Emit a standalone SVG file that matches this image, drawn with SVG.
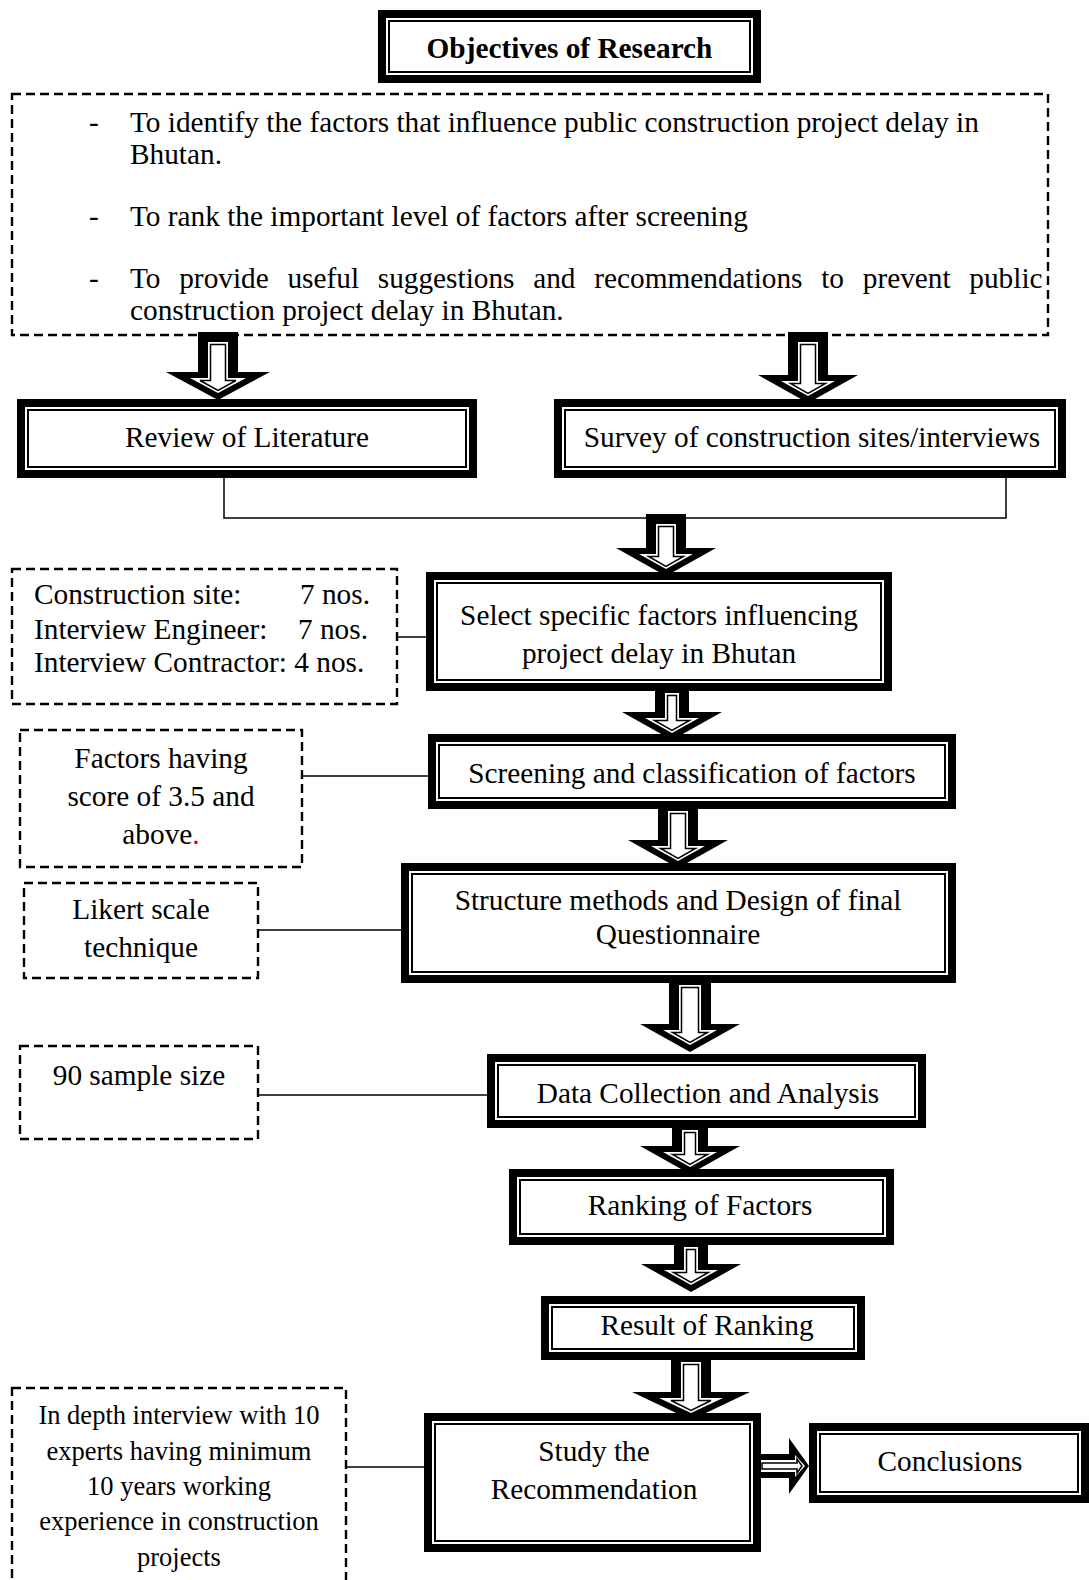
<svg xmlns="http://www.w3.org/2000/svg" width="1089" height="1580" viewBox="0 0 1089 1580">
<style>
text{font-family:"Liberation Serif","Times New Roman",serif;font-size:29.3px;fill:#000}
.b{font-weight:bold}
.m{text-anchor:middle}
.sm{font-size:26.5px}
.o{fill:#000}
.w{fill:#fff}
.t{fill:#fff;stroke:#000;stroke-width:2}
.d{fill:#fff;stroke:#000;stroke-width:2.4;stroke-dasharray:9 5}
.ln{fill:none;stroke:#000;stroke-width:1.5}
.at{fill:#fff;stroke:#000;stroke-width:1.5}
</style>
<rect width="1089" height="1580" fill="#fff"/>

<g id="nodes">
<g id="objectives-title">
<rect class="o" x="378" y="10" width="383" height="73"/><rect class="w" x="386" y="18" width="367" height="57"/><rect class="t" x="389" y="21" width="361" height="51"/>
<text class="m b" x="569.5" y="58">Objectives of Research</text>
</g>
<g id="objectives-list">
<rect class="d" x="12" y="94" width="1036" height="241"/>
<text x="89" y="132">-</text><text x="130" y="132">To identify the factors that influence public construction project delay in</text>
<text x="130" y="164">Bhutan.</text>
<text x="89" y="226">-</text><text x="130" y="226">To rank the important level of factors after screening</text>
<text x="89" y="288">-</text><text x="130" y="288" word-spacing="11.4">To provide useful suggestions and recommendations to prevent public</text>
<text x="130" y="320">construction project delay in Bhutan.</text>
</g>
<g id="review">
<rect class="o" x="17" y="399" width="460" height="79"/><rect class="w" x="25" y="407" width="444" height="63"/><rect class="t" x="28" y="410" width="438" height="57"/>
<text class="m" x="247" y="447">Review of Literature</text>
</g>
<g id="survey">
<rect class="o" x="554" y="399" width="512" height="79"/><rect class="w" x="562" y="407" width="496" height="63"/><rect class="t" x="565" y="410" width="490" height="57"/>
<text class="m" x="812" y="447">Survey of construction sites/interviews</text>
</g>
<g id="select">
<rect class="o" x="426" y="572" width="466" height="119"/><rect class="w" x="434" y="580" width="450" height="103"/><rect class="t" x="437" y="583" width="444" height="97"/>
<text class="m" x="659" y="625">Select specific factors influencing</text>
<text class="m" x="659" y="663">project delay in Bhutan</text>
</g>
<g id="note-sites">
<rect class="d" x="12" y="569" width="385" height="135"/>
<text x="34" y="604">Construction site:</text><text x="300" y="604">7 nos.</text>
<text x="34" y="639">Interview Engineer:</text><text x="298" y="639">7 nos.</text>
<text x="34" y="672">Interview Contractor: 4 nos.</text>
</g>
<g id="screening">
<rect class="o" x="428" y="734" width="528" height="75"/><rect class="w" x="436" y="742" width="512" height="59"/><rect class="t" x="439" y="745" width="506" height="53"/>
<text class="m" x="692" y="783">Screening and classification of factors</text>
</g>
<g id="note-score">
<rect class="d" x="20" y="730" width="282" height="137"/>
<text class="m" x="161" y="768">Factors having</text>
<text class="m" x="161" y="806">score of 3.5 and</text>
<text class="m" x="161" y="844">above<tspan fill="#e00000">.</tspan></text>
</g>
<g id="structure">
<rect class="o" x="401" y="863" width="555" height="120"/><rect class="w" x="409" y="871" width="539" height="104"/><rect class="t" x="412" y="874" width="533" height="98"/>
<text class="m" x="678" y="910">Structure methods and Design of final</text>
<text class="m" x="678" y="944">Questionnaire</text>
</g>
<g id="note-likert">
<rect class="d" x="24" y="883" width="234" height="95"/>
<text class="m" x="141" y="919">Likert scale</text>
<text class="m" x="141" y="957">technique</text>
</g>
<g id="data">
<rect class="o" x="487" y="1054" width="439" height="74"/><rect class="w" x="495" y="1062" width="423" height="58"/><rect class="t" x="498" y="1065" width="417" height="52"/>
<text class="m" x="708" y="1103">Data Collection and Analysis</text>
</g>
<g id="note-sample">
<rect class="d" x="20" y="1046" width="238" height="93"/>
<text class="m" x="139" y="1085">90 sample size</text>
</g>
<g id="ranking">
<rect class="o" x="509" y="1169" width="385" height="76"/><rect class="w" x="517" y="1177" width="369" height="60"/><rect class="t" x="520" y="1180" width="363" height="54"/>
<text class="m" x="700" y="1215">Ranking of Factors</text>
</g>
<g id="result">
<rect class="o" x="541" y="1296" width="324" height="64"/><rect class="w" x="549" y="1304" width="308" height="48"/><rect class="t" x="552" y="1307" width="302" height="42"/>
<text class="m" x="707" y="1335">Result of Ranking</text>
</g>
<g id="study">
<rect class="o" x="424" y="1413" width="337" height="139"/><rect class="w" x="432" y="1421" width="321" height="123"/><rect class="t" x="435" y="1424" width="315" height="117"/>
<text class="m" x="594" y="1461">Study the</text>
<text class="m" x="594" y="1499">Recommendation</text>
</g>
<g id="note-experts">
<rect class="d" x="12" y="1388" width="334" height="230"/>
<text class="m sm" x="179" y="1424">In depth interview with 10</text>
<text class="m sm" x="179" y="1460">experts having minimum</text>
<text class="m sm" x="179" y="1495">10 years working</text>
<text class="m sm" x="179" y="1530">experience in construction</text>
<text class="m sm" x="179" y="1566">projects</text>
</g>
<g id="conclusions">
<rect class="o" x="809" y="1423" width="280" height="80"/><rect class="w" x="817" y="1431" width="264" height="64"/><rect class="t" x="820" y="1434" width="258" height="58"/>
<text class="m" x="950" y="1471">Conclusions</text>
</g>
</g>

<g id="connectors">
<path class="ln" d="M224,478 V518 H1006 V478"/>
<path class="ln" d="M397,637 H426"/>
<path class="ln" d="M302,776 H428"/>
<path class="ln" d="M258,930 H401"/>
<path class="ln" d="M258,1095 H487"/>
<path class="ln" d="M346,1467 H424"/>

<g transform="translate(218,400)">
<polygon class="o" points="-20,-68 20,-68 20,-28 52,-28 0,0 -52,-28 -20,-28"/>
<polygon class="w" points="-10,-58 10,-58 10,-22 28,-22 0,-6.9 -28,-22 -10,-22"/>
<polygon class="at" points="-7.5,-55.5 7.5,-55.5 7.5,-19.5 18,-19.5 0,-9.7 -18,-19.5 -7.5,-19.5"/>
</g>
<g transform="translate(808,403)">
<polygon class="o" points="-20,-71 20,-71 20,-28 50,-28 0,0 -50,-28 -20,-28"/>
<polygon class="w" points="-10,-61 10,-61 10,-22 27,-22 0,-6.9 -27,-22 -10,-22"/>
<polygon class="at" points="-7.5,-58.5 7.5,-58.5 7.5,-19.5 17.4,-19.5 0,-9.7 -17.4,-19.5 -7.5,-19.5"/>
</g>
<g transform="translate(666,576)">
<polygon class="o" points="-20,-62 20,-62 20,-28 50,-28 0,0 -50,-28 -20,-28"/>
<polygon class="w" points="-10,-52 10,-52 10,-22 27,-22 0,-6.9 -27,-22 -10,-22"/>
<polygon class="at" points="-7.5,-49.5 7.5,-49.5 7.5,-19.5 17.4,-19.5 0,-9.7 -17.4,-19.5 -7.5,-19.5"/>
</g>
<g transform="translate(672,740)">
<polygon class="o" points="-17,-57 17,-57 17,-28 50,-28 0,0 -50,-28 -17,-28"/>
<polygon class="w" points="-7,-47 7,-47 7,-22 27,-22 0,-6.9 -27,-22 -7,-22"/>
<polygon class="at" points="-4.5,-44.5 4.5,-44.5 4.5,-19.5 17.4,-19.5 0,-9.7 -17.4,-19.5 -4.5,-19.5"/>
</g>
<g transform="translate(678,868)">
<polygon class="o" points="-20,-67 20,-67 20,-28 50,-28 0,0 -50,-28 -20,-28"/>
<polygon class="w" points="-10,-57 10,-57 10,-22 27,-22 0,-6.9 -27,-22 -10,-22"/>
<polygon class="at" points="-7.5,-54.5 7.5,-54.5 7.5,-19.5 17.4,-19.5 0,-9.7 -17.4,-19.5 -7.5,-19.5"/>
</g>
<g transform="translate(690,1052)">
<polygon class="o" points="-21,-77 21,-77 21,-28 50,-28 0,0 -50,-28 -21,-28"/>
<polygon class="w" points="-11,-67 11,-67 11,-22 27,-22 0,-6.9 -27,-22 -11,-22"/>
<polygon class="at" points="-8.5,-64.5 8.5,-64.5 8.5,-19.5 17.4,-19.5 0,-9.7 -17.4,-19.5 -8.5,-19.5"/>
</g>
<g transform="translate(690,1174)">
<polygon class="o" points="-18,-54 18,-54 18,-28 50,-28 0,0 -50,-28 -18,-28"/>
<polygon class="w" points="-8,-44 8,-44 8,-22 27,-22 0,-6.9 -27,-22 -8,-22"/>
<polygon class="at" points="-5.5,-41.5 5.5,-41.5 5.5,-19.5 17.4,-19.5 0,-9.7 -17.4,-19.5 -5.5,-19.5"/>
</g>
<g transform="translate(691,1292)">
<polygon class="o" points="-17,-55 17,-55 17,-28 50,-28 0,0 -50,-28 -17,-28"/>
<polygon class="w" points="-7,-45 7,-45 7,-22 27,-22 0,-6.9 -27,-22 -7,-22"/>
<polygon class="at" points="-4.5,-42.5 4.5,-42.5 4.5,-19.5 17.4,-19.5 0,-9.7 -17.4,-19.5 -4.5,-19.5"/>
</g>
<g transform="translate(691,1420)">
<polygon class="o" points="-20,-68 20,-68 20,-28 59,-28 0,0 -59,-28 -20,-28"/>
<polygon class="w" points="-10,-58 10,-58 10,-22 32,-22 0,-6.9 -32,-22 -10,-22"/>
<polygon class="at" points="-7.5,-55.5 7.5,-55.5 7.5,-19.5 20,-19.5 0,-9.7 -20,-19.5 -7.5,-19.5"/>
</g>
<g transform="translate(809,1466)">
<polygon class="o" points="-56,-12 -20,-12 -20,-28 0,0 -20,28 -20,12 -56,12"/>
<polygon class="w" points="-48,-6 -14,-6 -14,-11 -4,0 -14,11 -14,6 -48,6"/>
<polygon class="at" points="-47,-3 -12,-3 -12,-7 -7,0 -12,7 -12,3 -47,3"/>
</g>
</g>
</svg>
